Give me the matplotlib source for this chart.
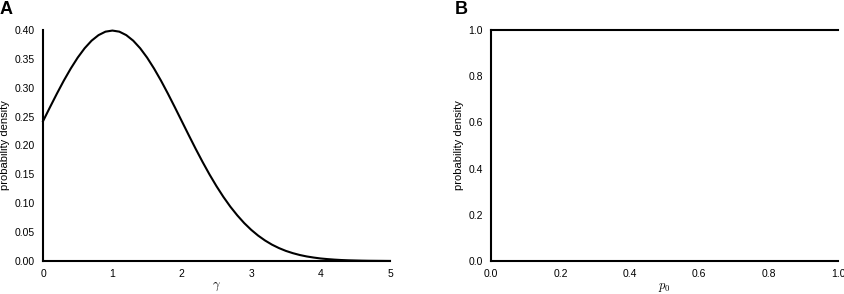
import matplotlib
matplotlib.use('Agg')
import matplotlib.pyplot as plt

plt.rcParams.update({
    'font.family': 'Liberation Sans',
    'font.size': 7.5,
    'mathtext.fontset': 'cm',
})

# Panel A: density of gamma (0.1 steps)
gamma_x = [round(0.1 * i, 1) for i in range(51)]
gamma_density = [
    0.2420, 0.2661, 0.2897, 0.3123, 0.3332, 0.3521, 0.3683, 0.3814, 0.3910, 0.3970,
    0.3989, 0.3970, 0.3910, 0.3814, 0.3683, 0.3521, 0.3332, 0.3123, 0.2897, 0.2661,
    0.2420, 0.2179, 0.1942, 0.1714, 0.1497, 0.1295, 0.1109, 0.0940, 0.0790, 0.0656,
    0.0540, 0.0440, 0.0355, 0.0283, 0.0224, 0.0175, 0.0136, 0.0104, 0.0079, 0.0060,
    0.0044, 0.0033, 0.0024, 0.0017, 0.0012, 0.0009, 0.0006, 0.0004, 0.0003, 0.0002,
    0.0001,
]
gamma_xticks = [0, 1, 2, 3, 4, 5]
gamma_yticks = [0.00, 0.05, 0.10, 0.15, 0.20, 0.25, 0.30, 0.35, 0.40]

# Panel B: uniform density of p0
p0_x = [0.0, 1.0]
p0_density = [1.0, 1.0]
p0_ticks = [0.0, 0.2, 0.4, 0.6, 0.8, 1.0]

fig = plt.figure(figsize=(8.45, 2.94), dpi=100)
axA = fig.add_axes([0.0509, 0.1122, 0.4106, 0.786])
axB = fig.add_axes([0.5811, 0.1122, 0.4106, 0.786])


def style(ax):
    for s in ('top', 'right'):
        ax.spines[s].set_visible(False)
    for s in ('left', 'bottom'):
        ax.spines[s].set_linewidth(1.5)
    ax.tick_params(length=0, pad=6)
    ax.set_ylabel('probability density', fontsize=8, labelpad=3)


axA.plot(gamma_x, gamma_density, color='black', lw=1.5, clip_on=False)
axA.set_xlim(0, 5)
axA.set_ylim(0, 0.4)
axA.set_xticks(gamma_xticks)
axA.set_yticks(gamma_yticks)
axA.set_yticklabels([f'{v:.2f}' for v in gamma_yticks])
axA.set_xlabel(r'$\gamma$', fontsize=9, labelpad=1)
style(axA)

axB.plot(p0_x, p0_density, color='black', lw=1.5, clip_on=False)
axB.set_xlim(0, 1)
axB.set_ylim(0, 1)
axB.set_xticks(p0_ticks)
axB.set_yticks(p0_ticks)
axB.set_xticklabels([f'{v:.1f}' for v in p0_ticks])
axB.set_yticklabels([f'{v:.1f}' for v in p0_ticks])
axB.set_xlabel(r'$p_0$', fontsize=9, labelpad=1)
style(axB)

fig.text(0.0, 0.995, 'A', fontsize=13, fontweight='bold', va='top', ha='left')
fig.text(0.538, 0.995, 'B', fontsize=13, fontweight='bold', va='top', ha='left')

fig.savefig('out.png', dpi=100)
